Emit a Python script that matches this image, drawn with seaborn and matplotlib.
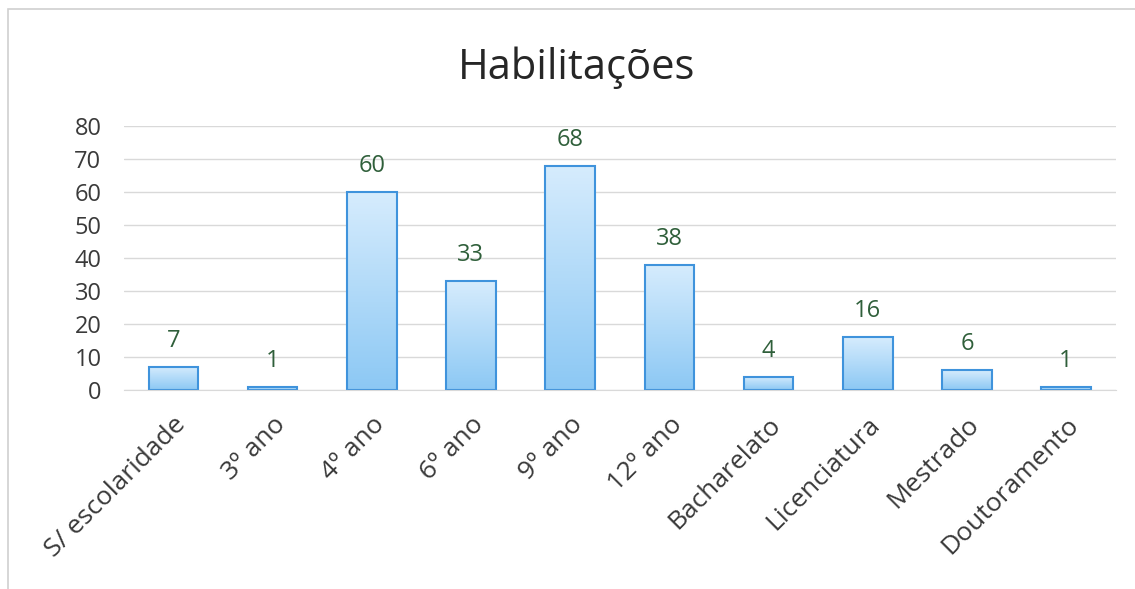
import matplotlib
matplotlib.use("Agg")
import matplotlib.pyplot as plt
import seaborn as sns
import pandas as pd
import numpy as np
from matplotlib.patches import Rectangle
from matplotlib.colors import LinearSegmentedColormap

# dados
categorias = ["S/ escolaridade", "3º ano", "4º ano", "6º ano", "9º ano", "12º ano",
              "Bacharelato", "Licenciatura", "Mestrado", "Doutoramento"]
valores = [7, 1, 60, 33, 68, 38, 4, 16, 6, 1]
yticks = [0, 10, 20, 30, 40, 50, 60, 70, 80]

df = pd.DataFrame({"cat": categorias, "val": valores})

sns.set_style("white")
plt.rcParams["font.family"] = ["Open Sans", "DejaVu Sans"]

fig = plt.figure(figsize=(11.35, 5.89), dpi=100)
ax = fig.add_axes([0.109, 0.338, 0.874, 0.448])

sns.barplot(data=df, x="cat", y="val", ax=ax, color="#a9d5f7", width=0.5,
            edgecolor="#3f93dc", linewidth=1.5, saturation=1)

ax.set_ylim(0, 80)
ax.set_yticks(yticks)
ax.set_xlim(-0.5, len(categorias) - 0.5)

# gradiente nas barras (claro em cima, mais escuro em baixo)
cmap = LinearSegmentedColormap.from_list("grad", ["#8cc8f4", "#d6ecfd"])
grad = np.linspace(0, 1, 256).reshape(-1, 1)
for p in ax.patches:
    x0, y0 = p.get_x(), p.get_y()
    w, h = p.get_width(), p.get_height()
    im = ax.imshow(grad, cmap=cmap, aspect="auto", origin="lower",
                   extent=[x0, x0 + w, y0, y0 + h], zorder=p.get_zorder() - 0.1)
    im.set_clip_path(p)
    p.set_facecolor("none")
ax.set_xlim(-0.5, len(categorias) - 0.5)
ax.set_ylim(0, 80)
ax.set_aspect("auto")

ax.yaxis.grid(True, color="#d9d9d9", linewidth=1)
ax.set_axisbelow(True)
for s in ["top", "right", "left"]:
    ax.spines[s].set_visible(False)
ax.spines["bottom"].set_color("#d9d9d9")
ax.tick_params(axis="y", labelsize=17, colors="#3a3a3a", length=0, pad=16)
ax.tick_params(axis="x", labelsize=19, colors="#3a3a3a", length=0, pad=16)
plt.setp(ax.get_xticklabels(), rotation=45, ha="right", rotation_mode="anchor")
ax.set_xlabel("")
ax.set_ylabel("")

# rotulos de valor
for i, v in enumerate(valores):
    ax.annotate(str(v), (i, v), xytext=(0, 10), textcoords="offset points",
                ha="center", va="bottom", fontsize=17, color="#2f5f3a")

fig.text(0.508, 0.885, "Habilitações", ha="center", va="center", fontsize=30, color="#262626")

# moldura
fig.patches.append(Rectangle((0.007, -0.01), 1.2, 0.994, transform=fig.transFigure,
                             fill=False, edgecolor="#d0d0d0", linewidth=1.2))

fig.savefig("out.png", dpi=100)
